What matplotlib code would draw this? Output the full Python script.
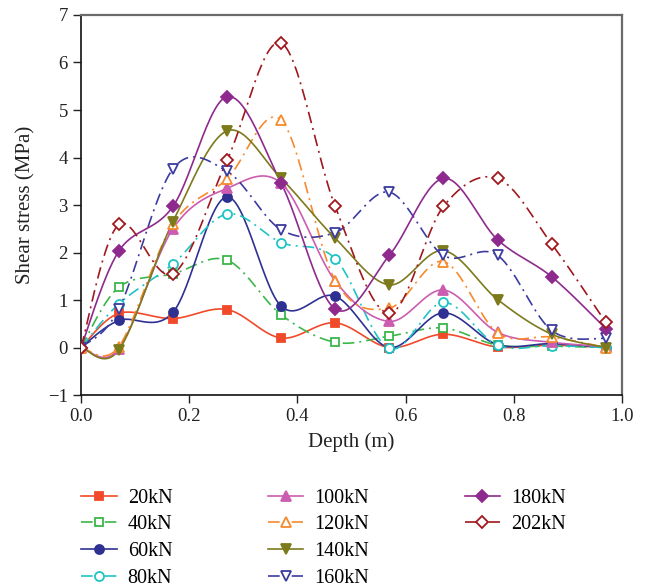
import numpy as np
import matplotlib
matplotlib.use("Agg")
import matplotlib.pyplot as plt
from matplotlib.lines import Line2D

plt.rcParams['font.family'] = ['Liberation Serif', 'DejaVu Serif']
plt.rcParams['axes.unicode_minus'] = True

# data
depth = [0.0, 0.07, 0.17, 0.27, 0.37, 0.47, 0.57, 0.67, 0.77, 0.87, 0.97]
labels = ['20kN', '40kN', '60kN', '80kN', '100kN', '120kN', '140kN', '160kN', '180kN', '202kN']

s20 = [0, 0.72, 0.61, 0.80, 0.20, 0.52, 0.0, 0.28, 0.01, 0.05, 0.0]
s40 = [0, 1.27, 1.55, 1.84, 0.69, 0.11, 0.24, 0.41, 0.05, 0.03, 0.0]
s60 = [0, 0.57, 0.74, 3.17, 0.87, 1.08, 0.0, 0.73, 0.06, 0.08, 0.0]
s80 = [0, 0.92, 1.76, 2.81, 2.21, 1.87, -0.02, 0.95, 0.05, 0.04, 0.0]
s100 = [0, -0.03, 2.50, 3.35, 3.46, 1.40, 0.55, 1.21, 0.32, 0.11, 0.02]
s120 = [0, 0.02, 2.60, 3.55, 4.79, 1.41, 0.83, 1.81, 0.31, 0.22, 0.0]
s140 = [0, -0.05, 2.65, 4.56, 3.56, 2.30, 1.32, 2.04, 1.01, 0.28, 0.0]
s160 = [0, 0.81, 3.76, 3.71, 2.48, 2.42, 3.27, 1.94, 1.94, 0.36, 0.19]
s180 = [0, 2.03, 2.97, 5.28, 3.46, 0.81, 1.94, 3.56, 2.27, 1.49, 0.40]
s202 = [0, 2.59, 1.55, 3.94, 6.41, 2.97, 0.72, 2.97, 3.56, 2.18, 0.53]
series = [s20, s40, s60, s80, s100, s120, s140, s160, s180, s202]

colors = ['#f04a2a', '#3cb64a', '#2e3192', '#1fc4c4', '#cc5cb0',
          '#f68a2c', '#7d7a1c', '#3b3ba0', '#8e2a8e', '#a0181e']
markers = ['s', 's', 'o', 'o', '^', '^', 'v', 'v', 'D', 'D']
filled = [True, False, True, False, True, False, True, False, True, False]
msizes = [6, 6, 6.5, 6.5, 7, 7.5, 7.5, 7.5, 6, 6]
dashdot = (0, (7, 3, 1.2, 3))


def smooth(x, y, n=30):
    # Catmull-Rom style bezier through the points (like a spreadsheet smoothed line)
    p = np.column_stack([x, y]).astype(float)
    pts = np.vstack([p[0], p, p[-1]])
    out = []
    for i in range(1, len(pts) - 2):
        p0, p1, p2, p3 = pts[i - 1], pts[i], pts[i + 1], pts[i + 2]
        c1 = p1 + (p2 - p0) / 6.0
        c2 = p2 - (p3 - p1) / 6.0
        t = np.linspace(0, 1, n)[:, None]
        seg = ((1 - t) ** 3) * p1 + 3 * ((1 - t) ** 2) * t * c1 + 3 * (1 - t) * t ** 2 * c2 + t ** 3 * p2
        out.append(seg if i == 1 else seg[1:])
    s = np.vstack(out)
    return s[:, 0], s[:, 1]


fig = plt.figure(figsize=(6.51, 5.88), dpi=100)
ax = fig.add_axes([0.1244, 0.3282, 0.831, 0.6463])

handles = []
for ys, lab, c, m, f, ms in zip(series, labels, colors, markers, filled, msizes):
    ls = '-' if f else dashdot
    sx, sy = smooth(depth, ys)
    ax.plot(sx, sy, color=c, lw=1.2, linestyle=ls, zorder=2)
    fc = c if f else 'white'
    ax.plot(depth, ys, linestyle='none', marker=m, ms=ms, mfc=fc, mec=c,
            mew=1.3, zorder=3)
    handles.append(Line2D([], [], color=c, lw=1.2, linestyle=ls, marker=m,
                          ms=ms, mfc=fc, mec=c, mew=1.3, label=lab))

ax.set_xlim(0, 1.0)
ax.set_ylim(-1, 7)
ax.set_xticks([0.0, 0.2, 0.4, 0.6, 0.8, 1.0])
ax.set_xticklabels(['0.0', '0.2', '0.4', '0.6', '0.8', '1.0'])
ax.set_yticks(range(-1, 8))
ax.tick_params(direction='out', length=6, width=1, labelsize=13.5, colors='#222222')
ax.set_xlabel('Depth (m)', fontsize=15, color='#222222', labelpad=5)
ax.set_ylabel('Shear stress (MPa)', fontsize=15, color='#222222', labelpad=9)
for side in ['left', 'bottom']:
    ax.spines[side].set_color('#111111')
    ax.spines[side].set_linewidth(1.2)
for side in ['top', 'right']:
    ax.spines[side].set_color('#6a6a6a')
    ax.spines[side].set_linewidth(1.6)

# blank entry so columns fill 4 / 4 / 2
handles.append(Line2D([], [], color='none', label=' '))
fig.legend(handles=handles, loc='upper left', bbox_to_anchor=(0.125, 0.169),
           ncol=3, frameon=False, fontsize=14.5, handlelength=1.75,
           columnspacing=4.75, labelspacing=0.38, handletextpad=0.55,
           borderaxespad=0, borderpad=0)

fig.savefig('out.png', dpi=100)
